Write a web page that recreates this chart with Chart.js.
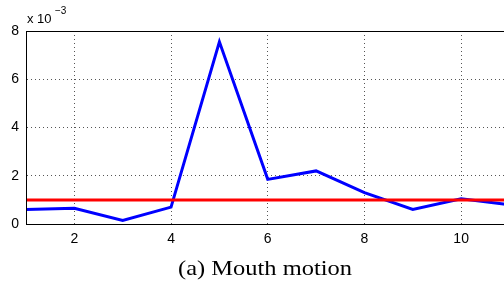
<!DOCTYPE html>
<html>
<head>
<meta charset="utf-8">
<script src="https://cdn.jsdelivr.net/npm/chart.js@4"></script>
<style>
  html, body { margin: 0; padding: 0; background: #fff; overflow: hidden; }
  #wrap { width: 512px; height: 283px; }
</style>
</head>
<body>
<div id="wrap"><canvas id="motionChart" width="512" height="283"></canvas></div>
<script>
// frame index
var frames = [1, 2, 3, 4, 5, 6, 7, 8, 9, 10, 11];
// mouth motion (x 10^-3)
var motion = [0.6, 0.65, 0.15, 0.7, 7.55, 1.85, 2.2, 1.3, 0.6, 1.05, 0.8];
// threshold (x 10^-3)
var threshold = 1.0;
var xTicks = [2, 4, 6, 8, 10];
var yTicks = [0, 2, 4, 6, 8];
var caption = "(a) Mouth motion";

var motionPts = frames.map(function (f, i) { return { x: f, y: motion[i] }; });
var threshPts = [{ x: frames[0], y: threshold }, { x: frames[frames.length - 1], y: threshold }];

// frame, exponent label and caption
var extras = {
    id: "extras",
    afterDraw: function (chart) {
        var ctx = chart.ctx, a = chart.chartArea;
        ctx.save();
        ctx.strokeStyle = "#000";
        ctx.lineWidth = 1;
        ctx.strokeRect(a.left + 0.5, a.top + 0.5, a.right - a.left, a.bottom - a.top);

        ctx.fillStyle = "#000";
        ctx.textBaseline = "alphabetic";
        ctx.textAlign = "left";
        ctx.font = "13px 'Liberation Sans', Arial, sans-serif";
        ctx.fillText("x 10", 27, 23);
        ctx.font = "10px 'Liberation Sans', Arial, sans-serif";
        ctx.fillText("\u22123", 55, 14);

        // caption, slightly stretched like the original figure
        ctx.font = "21px 'Liberation Serif', 'Times New Roman', serif";
        var w = ctx.measureText(caption).width;
        var sx = 174 / w;
        ctx.translate(178, 275);
        ctx.scale(sx, 1);
        ctx.fillText(caption, 0, 0);
        ctx.restore();
    }
};

var ctx = document.getElementById("motionChart").getContext("2d");
var chart = new Chart(ctx, {
    type: "line",
    data: {
        datasets: [{
            label: "threshold",
            data: threshPts,
            borderColor: "#ff0000",
            borderWidth: 3,
            pointRadius: 0,
            order: 0
        }, {
            label: "motion",
            data: motionPts,
            borderColor: "#0000ff",
            borderWidth: 3,
            pointRadius: 0,
            tension: 0,
            order: 1
        }]
    },
    options: {
        responsive: false,
        animation: false,
        layout: { padding: { top: 31, right: 2.5, left: 0, bottom: 0 } },
        plugins: {
            legend: { display: false },
            tooltip: { enabled: false }
        },
        scales: {
            x: {
                type: "linear",
                min: 1,
                max: 11,
                afterFit: function (s) { s.height = 59; },
                afterBuildTicks: function (s) {
                    s.ticks = xTicks.map(function (v) { return { value: v }; });
                },
                ticks: {
                    color: "#000",
                    padding: 7,
                    font: { family: "'Liberation Sans', Arial, sans-serif", size: 14 }
                },
                grid: {
                    color: "#555",
                    lineWidth: 1,
                    drawTicks: false
                },
                border: { display: true, color: "#000", width: 1, dash: [1, 3] }
            },
            y: {
                min: 0,
                max: 8,
                afterFit: function (s) { s.width = 26; },
                afterBuildTicks: function (s) {
                    s.ticks = yTicks.map(function (v) { return { value: v }; });
                },
                ticks: {
                    color: "#000",
                    padding: 7,
                    font: { family: "'Liberation Sans', Arial, sans-serif", size: 14 }
                },
                grid: {
                    color: "#555",
                    lineWidth: 1,
                    drawTicks: false
                },
                border: { display: true, color: "#000", width: 1, dash: [1, 3] }
            }
        }
    },
    plugins: [extras]
});
</script>
</body>
</html>
